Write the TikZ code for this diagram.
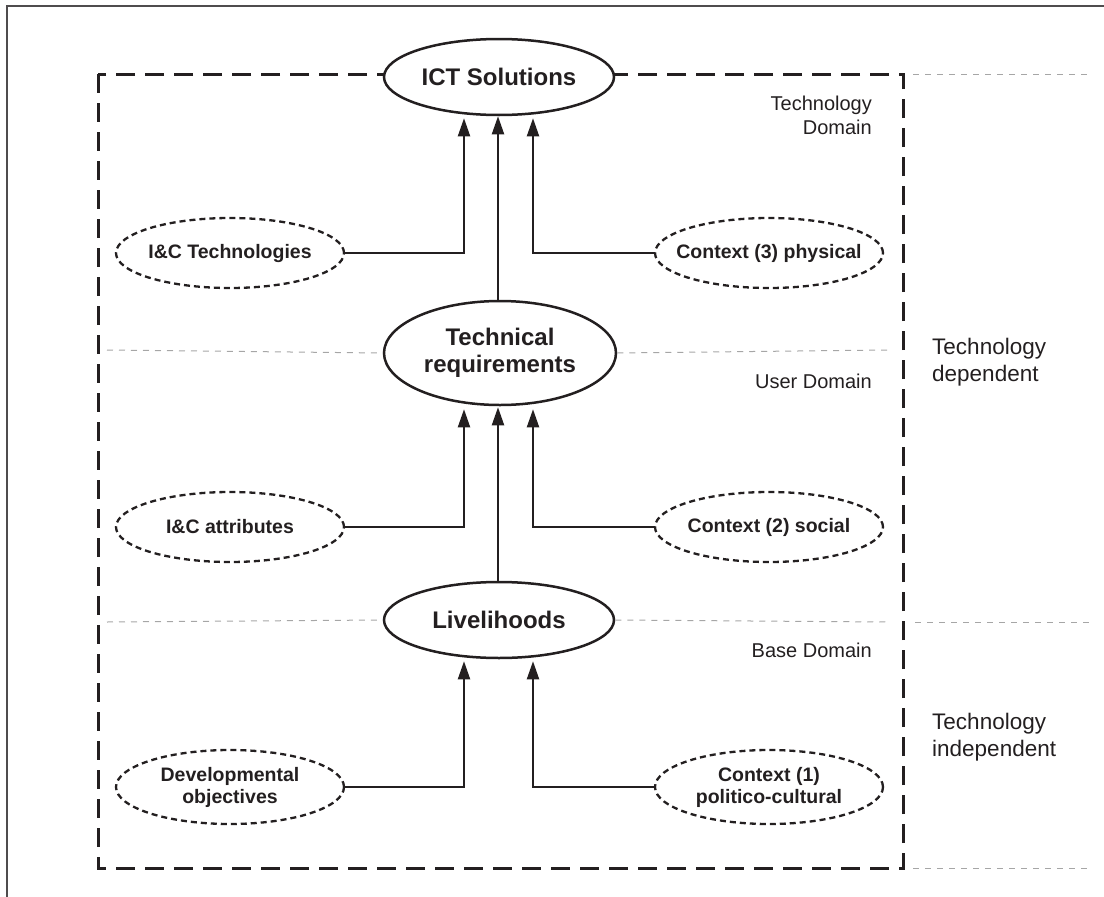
\documentclass[tikz,border=0pt]{standalone}
\usepackage{fontspec}
\setmainfont{Liberation Sans}
\usetikzlibrary{shapes.geometric,arrows.meta}
\definecolor{ink}{HTML}{231F20}
\begin{document}
\begin{tikzpicture}[x=1pt,y=-1pt,
  every node/.style={text=ink},
  mainell/.style={ellipse,draw=ink,fill=white,line width=2.5pt,minimum width=230pt,minimum height=76pt,inner sep=0pt,font=\fontsize{24}{27}\selectfont\bfseries,align=center},
  subell/.style={ellipse,draw=ink,fill=white,dash pattern=on 6pt off 4pt,line width=2.3pt,minimum width=228pt,minimum height=70pt,inner sep=0pt},
  sublabel/.style={font=\fontsize{19.5}{22}\selectfont\bfseries,align=center,text=ink,inner sep=0pt},
  arr/.style={draw=ink,line width=2pt,-{Triangle[length=18pt,width=12pt]}},
  gridline/.style={draw=black!35,line width=1pt,dash pattern=on 6pt off 6pt},
  domlabel/.style={font=\fontsize{20}{24}\selectfont,align=right,anchor=east,inner sep=0pt},
  deplabel/.style={font=\fontsize{22.5}{27}\selectfont,align=left,anchor=west,inner sep=0pt},
  boxline/.style={draw=ink,line width=3pt,dash pattern=on 19pt off 10pt},
  frameline/.style={draw=ink!80,line width=1.5pt}
]
\useasboundingbox (0,0) rectangle (1104,897);
% outer frame (top and left)
\coordinate (f0) at (7,897);
\coordinate (f1) at (7,6);
\coordinate (f2) at (1104,6);
\draw[frameline] (f0) -- (f1) -- (f2);
% dashed domain box
\coordinate (b1) at (98,74);
\coordinate (b2) at (903,868);
\draw[boxline] (b1) rectangle (b2);
% gray separators
\coordinate (g1a) at (913,74);  \coordinate (g1b) at (1092,74);
\coordinate (g2a) at (107,350); \coordinate (g2b) at (888,350);
\coordinate (g3a) at (107,622); \coordinate (g3b) at (888,622);
\coordinate (g3c) at (915,622); \coordinate (g3d) at (1092,622);
\coordinate (g4a) at (913,868); \coordinate (g4b) at (1092,868);
\draw[gridline] (g1a) -- (g1b);
\draw[gridline] (g4a) -- (g4b);
\draw[gridline] (g3c) -- (g3d);
% main ellipses
\node[mainell] (ict) at (499,77) {ICT Solutions};
\node[mainell,minimum width=232pt,minimum height=104pt] (tr) at (500,353) {Technical\\requirements};
\node[mainell] (liv) at (499,620) {Livelihoods};
\draw[gridline] (g2a) -- (tr.west);
\draw[gridline] (tr.east) -- (g2b);
\draw[gridline] (g3a) -- (liv.west);
\draw[gridline] (liv.east) -- (g3b);
% sub ellipses
\node[subell,label={[sublabel]center:I\&C Technologies}] (ict1) at (230,253) {};
\node[subell,label={[sublabel]center:Context (3) physical}] (ict3) at (769,253) {};
\node[subell,label={[sublabel]center:I\&C attributes}] (tr1) at (230,527) {};
\node[subell,label={[sublabel]center:Context (2) social}] (tr2) at (769,527) {};
\node[subell,minimum height=74pt,label={[sublabel]center:Developmental\\objectives}] (liv1) at (230,787) {};
\node[subell,minimum height=74pt,label={[sublabel]center:Context (1)\\politico-cultural}] (liv2) at (769,787) {};
% arrows
\coordinate (xl) at (464,0);
\coordinate (xm) at (498,0);
\coordinate (xr) at (533,0);
\draw[arr] (ict1.east) -| ([yshift=-2pt]ict.south -| xl);
\draw[arr] (ict3.west) -| ([yshift=-2pt]ict.south -| xr);
\draw[arr] (tr.north -| xm) -- (ict.south -| xm);
\draw[arr] (tr1.east) -| ([yshift=-3pt]tr.south -| xl);
\draw[arr] (tr2.west) -| ([yshift=-3pt]tr.south -| xr);
\draw[arr] (liv.north -| xm) -- ([yshift=-1pt]tr.south -| xm);
\draw[arr] (liv1.east) -| ([yshift=-2pt]liv.south -| xl);
\draw[arr] (liv2.west) -| ([yshift=-2pt]liv.south -| xr);
% labels
\node[domlabel] (ld1) at (872,115) {Technology\\Domain};
\node[domlabel] (ld2) at (872,381) {User Domain};
\node[domlabel] (ld3) at (872,650) {Base Domain};
\node[deplabel] (dep) at (932,362) {Technology\\dependent};
\node[deplabel] (indep) at (932,737) {Technology\\independent};
\end{tikzpicture}
\end{document}
